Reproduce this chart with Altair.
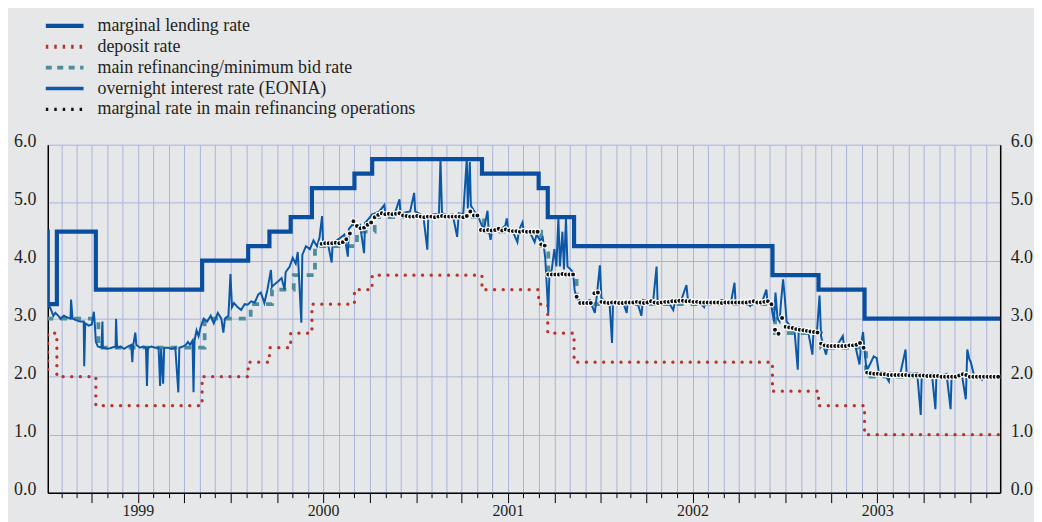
import altair as alt
import pandas as pd

# ---------------- data ----------------
SERIES = [
    "marginal lending rate",
    "deposit rate",
    "main refinancing/minimum bid rate",
    "overnight interest rate (EONIA)",
    "marginal rate in main refinancing operations",
]

# standing facilities: change dates and levels (step series)
CORRIDOR_DATES = ["1999-01-01", "1999-01-04", "1999-01-22", "1999-04-09", "1999-11-05",
                  "2000-02-04", "2000-03-17", "2000-04-28", "2000-06-09", "2000-09-01",
                  "2000-10-06", "2001-05-11", "2001-08-31", "2001-09-18", "2001-11-09",
                  "2002-12-06", "2003-03-07", "2003-06-06", "2004-02-29"]
LENDING_RATES = [4.50, 3.25, 4.50, 3.50, 4.00, 4.25, 4.50, 4.75, 5.25, 5.50,
                 5.75, 5.50, 5.25, 4.75, 4.25, 3.75, 3.50, 3.00, 3.00]
DEPOSIT_RATES = [2.00, 2.75, 2.00, 1.50, 2.00, 2.25, 2.50, 2.75, 3.25, 3.50,
                 3.75, 3.50, 3.25, 2.75, 2.25, 1.75, 1.50, 1.00, 1.00]

# main refinancing / minimum bid rate
MRO_DATES = ["1999-01-01", "1999-04-14", "1999-11-10", "2000-02-09", "2000-03-22",
             "2000-05-04", "2000-06-15", "2000-09-06", "2000-10-11", "2001-05-15",
             "2001-09-05", "2001-09-19", "2001-11-14", "2002-12-11", "2003-03-12",
             "2003-06-09", "2004-02-29"]
MRO_RATES = [3.00, 2.50, 3.00, 3.25, 3.50, 3.75, 4.25, 4.50, 4.75, 4.50,
             4.25, 3.75, 3.25, 2.75, 2.50, 2.00, 2.00]

# overnight rate (EONIA)
EONIA = [
    ("1999-01-04", 3.20), ("1999-01-07", 3.22), ("1999-01-12", 3.12), ("1999-01-15", 3.05),
    ("1999-01-19", 3.10), ("1999-01-25", 3.05), ("1999-01-29", 3.00), ("1999-02-05", 3.05),
    ("1999-02-12", 3.02), ("1999-02-18", 3.00), ("1999-02-19", 3.33), ("1999-02-22", 3.00),
    ("1999-03-02", 2.97), ("1999-03-09", 2.95), ("1999-03-16", 2.95), ("1999-03-17", 2.18),
    ("1999-03-19", 2.92), ("1999-03-26", 2.88), ("1999-04-01", 2.90), ("1999-04-05", 3.12),
    ("1999-04-07", 2.90), ("1999-04-09", 2.60), ("1999-04-13", 2.52), ("1999-04-20", 2.50),
    ("1999-04-22", 2.95), ("1999-04-23", 2.50), ("1999-05-03", 2.48), ("1999-05-10", 2.50),
    ("1999-05-18", 2.52), ("1999-05-19", 3.00), ("1999-05-21", 2.50), ("1999-05-28", 2.52),
    ("1999-06-04", 2.48), ("1999-06-11", 2.52), ("1999-06-18", 2.55), ("1999-06-20", 2.25),
    ("1999-06-22", 2.55), ("1999-06-26", 2.76), ("1999-06-28", 2.55), ("1999-07-05", 2.50),
    ("1999-07-12", 2.52), ("1999-07-17", 2.50), ("1999-07-19", 1.84), ("1999-07-21", 2.50),
    ("1999-07-28", 2.52), ("1999-08-04", 2.50), ("1999-08-11", 2.50), ("1999-08-14", 1.84),
    ("1999-08-16", 2.48), ("1999-08-20", 1.88), ("1999-08-22", 2.50), ("1999-08-30", 2.50),
    ("1999-09-06", 2.48), ("1999-09-13", 2.50), ("1999-09-19", 1.73), ("1999-09-21", 2.50),
    ("1999-09-28", 2.52), ("1999-10-04", 2.55), ("1999-10-08", 2.60), ("1999-10-12", 2.55),
    ("1999-10-17", 2.62), ("1999-10-19", 1.73), ("1999-10-21", 2.62), ("1999-10-25", 2.80),
    ("1999-10-29", 2.70), ("1999-11-02", 2.85), ("1999-11-08", 3.00), ("1999-11-15", 2.95),
    ("1999-11-22", 3.05), ("1999-11-28", 2.92), ("1999-12-06", 3.10), ("1999-12-13", 3.00),
    ("1999-12-17", 2.76), ("1999-12-20", 3.00), ("1999-12-27", 3.05), ("1999-12-31", 3.77),
    ("2000-01-03", 3.20), ("2000-01-07", 3.27), ("2000-01-14", 3.20), ("2000-01-21", 3.15),
    ("2000-01-28", 3.25), ("2000-02-03", 3.24), ("2000-02-10", 3.30), ("2000-02-17", 3.28),
    ("2000-02-24", 3.42), ("2000-02-29", 3.45), ("2000-03-07", 3.27), ("2000-03-13", 3.50),
    ("2000-03-20", 3.84), ("2000-03-22", 3.55), ("2000-03-28", 3.60), ("2000-04-04", 3.65),
    ("2000-04-10", 3.70), ("2000-04-16", 3.50), ("2000-04-18", 3.80), ("2000-04-26", 3.90),
    ("2000-05-02", 4.05), ("2000-05-08", 3.95), ("2000-05-12", 4.15), ("2000-05-19", 2.93),
    ("2000-05-21", 4.10), ("2000-05-28", 4.25), ("2000-06-05", 4.20), ("2000-06-12", 4.35),
    ("2000-06-19", 4.25), ("2000-06-24", 4.40), ("2000-06-29", 4.77), ("2000-07-01", 4.30),
    ("2000-07-10", 4.32), ("2000-07-18", 3.97), ("2000-07-20", 4.32), ("2000-07-28", 4.35),
    ("2000-08-05", 4.40), ("2000-08-12", 4.45), ("2000-08-19", 4.07), ("2000-08-21", 4.55),
    ("2000-08-28", 4.62), ("2000-09-05", 4.60), ("2000-09-12", 4.62), ("2000-09-20", 4.13),
    ("2000-09-22", 4.65), ("2000-09-29", 4.72), ("2000-10-06", 4.80), ("2000-10-13", 4.82),
    ("2000-10-20", 4.85), ("2000-10-30", 4.96), ("2000-11-01", 4.82), ("2000-11-10", 4.83),
    ("2000-11-20", 4.82), ("2000-11-29", 5.06), ("2000-12-01", 4.82), ("2000-12-10", 4.83),
    ("2000-12-20", 4.85), ("2000-12-28", 5.17), ("2000-12-30", 4.85), ("2001-01-05", 4.82),
    ("2001-01-15", 4.78), ("2001-01-23", 4.19), ("2001-01-25", 4.78), ("2001-02-05", 4.80),
    ("2001-02-15", 4.80), ("2001-02-18", 5.75), ("2001-02-21", 4.82), ("2001-03-05", 4.78),
    ("2001-03-14", 4.80), ("2001-03-23", 4.41), ("2001-03-26", 4.82), ("2001-04-04", 4.80),
    ("2001-04-11", 5.77), ("2001-04-13", 4.90), ("2001-04-17", 5.70), ("2001-04-19", 4.95),
    ("2001-04-26", 4.85), ("2001-05-04", 4.75), ("2001-05-11", 4.60), ("2001-05-15", 4.55),
    ("2001-05-22", 4.86), ("2001-05-24", 4.55), ("2001-05-28", 4.36), ("2001-05-31", 4.55),
    ("2001-06-08", 4.57), ("2001-06-18", 4.55), ("2001-06-26", 4.60), ("2001-06-29", 4.73),
    ("2001-07-02", 4.52), ("2001-07-10", 4.52), ("2001-07-20", 4.32), ("2001-07-23", 4.52),
    ("2001-07-30", 4.66), ("2001-08-02", 4.50), ("2001-08-12", 4.52), ("2001-08-23", 4.32),
    ("2001-08-27", 4.45), ("2001-09-03", 4.35), ("2001-09-08", 4.40), ("2001-09-13", 4.05),
    ("2001-09-19", 3.10), ("2001-09-21", 3.70), ("2001-09-26", 3.85), ("2001-10-01", 4.20),
    ("2001-10-05", 3.90), ("2001-10-09", 4.73), ("2001-10-12", 3.90), ("2001-10-17", 4.50),
    ("2001-10-20", 3.85), ("2001-10-24", 4.73), ("2001-10-27", 3.90), ("2001-11-02", 3.85),
    ("2001-11-07", 3.80), ("2001-11-10", 3.50), ("2001-11-14", 3.35), ("2001-11-22", 3.30),
    ("2001-11-30", 3.28), ("2001-12-10", 3.32), ("2001-12-20", 3.10), ("2001-12-24", 3.40),
    ("2001-12-30", 3.92), ("2002-01-02", 3.35), ("2002-01-10", 3.30), ("2002-01-18", 3.28),
    ("2002-01-23", 2.58), ("2002-01-25", 3.30), ("2002-02-05", 3.30), ("2002-02-14", 3.28),
    ("2002-02-21", 3.10), ("2002-02-23", 3.30), ("2002-03-05", 3.30), ("2002-03-14", 3.28),
    ("2002-03-22", 3.05), ("2002-03-25", 3.32), ("2002-04-05", 3.30), ("2002-04-14", 3.28),
    ("2002-04-21", 3.90), ("2002-04-23", 3.30), ("2002-05-05", 3.30), ("2002-05-15", 3.28),
    ("2002-05-24", 3.15), ("2002-05-28", 3.32), ("2002-06-08", 3.30), ("2002-06-19", 3.58),
    ("2002-06-22", 3.32), ("2002-07-05", 3.30), ("2002-07-15", 3.28), ("2002-07-24", 3.20),
    ("2002-07-27", 3.30), ("2002-08-08", 3.30), ("2002-08-20", 3.28), ("2002-08-27", 3.32),
    ("2002-09-05", 3.30), ("2002-09-15", 3.28), ("2002-09-22", 3.62), ("2002-09-24", 3.30),
    ("2002-10-05", 3.30), ("2002-10-15", 3.28), ("2002-10-23", 3.22), ("2002-10-26", 3.30),
    ("2002-11-06", 3.30), ("2002-11-15", 3.28), ("2002-11-24", 3.50), ("2002-11-26", 3.30),
    ("2002-12-03", 3.28), ("2002-12-06", 3.10), ("2002-12-09", 2.95), ("2002-12-12", 3.45),
    ("2002-12-16", 3.00), ("2002-12-20", 2.95), ("2002-12-23", 3.30), ("2002-12-27", 3.68),
    ("2002-12-30", 3.40), ("2003-01-03", 2.95), ("2003-01-10", 2.88), ("2003-01-18", 2.85),
    ("2003-01-25", 2.12), ("2003-01-27", 2.85), ("2003-02-05", 2.82), ("2003-02-14", 2.80),
    ("2003-02-23", 2.38), ("2003-02-25", 2.80), ("2003-03-04", 2.78), ("2003-03-09", 3.40),
    ("2003-03-12", 2.70), ("2003-03-16", 2.55), ("2003-03-22", 2.38), ("2003-03-25", 2.55),
    ("2003-04-05", 2.55), ("2003-04-15", 2.57), ("2003-04-24", 2.70), ("2003-04-26", 2.55),
    ("2003-05-08", 2.55), ("2003-05-18", 2.56), ("2003-05-27", 2.21), ("2003-05-30", 2.55),
    ("2003-06-03", 2.77), ("2003-06-06", 2.45), ("2003-06-10", 2.10), ("2003-06-16", 2.20),
    ("2003-06-24", 2.35), ("2003-06-30", 2.32), ("2003-07-04", 2.08), ("2003-07-14", 2.07),
    ("2003-07-24", 1.92), ("2003-07-26", 2.07), ("2003-08-05", 2.06), ("2003-08-16", 2.07),
    ("2003-08-26", 2.47), ("2003-08-28", 2.07), ("2003-09-08", 2.05), ("2003-09-18", 2.06),
    ("2003-09-25", 1.34), ("2003-09-27", 2.05), ("2003-10-08", 2.04), ("2003-10-17", 2.05),
    ("2003-10-24", 1.44), ("2003-10-26", 2.03), ("2003-11-05", 2.02), ("2003-11-15", 2.05),
    ("2003-11-23", 1.44), ("2003-11-25", 2.03), ("2003-12-05", 2.03), ("2003-12-15", 2.05),
    ("2003-12-23", 1.61), ("2003-12-26", 2.47), ("2003-12-30", 2.30), ("2004-01-02", 2.25),
    ("2004-01-08", 2.03), ("2004-01-16", 2.02), ("2004-01-24", 1.95), ("2004-01-27", 2.03),
    ("2004-02-05", 2.02), ("2004-02-15", 2.03), ("2004-02-25", 2.00),
]

# marginal rate in the weekly main refinancing operations (from 28 June 2000)
MARGINAL_FIRST_TENDER = "2000-06-28"
MARGINAL_2000 = [4.29, 4.30, 4.30, 4.30, 4.31, 4.30, 4.32, 4.37, 4.47, 4.68, 4.60, 4.56, 4.57,
                 4.62, 4.66, 4.75, 4.79, 4.82, 4.80, 4.81, 4.80, 4.81, 4.82, 4.78, 4.77, 4.76, 4.76]
MARGINAL_2001 = [4.77, 4.76, 4.75, 4.76, 4.76, 4.75, 4.76, 4.77, 4.76, 4.76, 4.76, 4.76, 4.76,
                 4.75, 4.77, 4.85, 4.78, 4.78, 4.53, 4.52, 4.53, 4.52, 4.53, 4.55, 4.52, 4.54,
                 4.52, 4.51, 4.51, 4.50, 4.51, 4.50, 4.50, 4.50, 4.50, 4.28, 4.26, 3.76, 3.76,
                 3.76, 3.76, 3.77, 3.76, 3.76, 3.76, 3.38, 3.27, 3.27, 3.27, 3.27, 3.44, 3.45]
MARGINAL_2002 = [3.29, 3.28, 3.27, 3.28, 3.28, 3.27, 3.27, 3.28, 3.28, 3.28, 3.29, 3.28, 3.27,
                 3.28, 3.30, 3.28, 3.27, 3.28, 3.29, 3.29, 3.30, 3.30, 3.31, 3.31, 3.30, 3.30,
                 3.29, 3.29, 3.28, 3.28, 3.28, 3.28, 3.28, 3.28, 3.27, 3.28, 3.28, 3.28, 3.28,
                 3.28, 3.28, 3.28, 3.29, 3.30, 3.28, 3.28, 3.29, 3.30, 3.25, 2.81, 2.74, 3.01]
MARGINAL_2003 = [2.86, 2.85, 2.84, 2.82, 2.81, 2.80, 2.79, 2.78, 2.77, 2.76, 2.57, 2.54, 2.53,
                 2.53, 2.53, 2.53, 2.53, 2.53, 2.54, 2.54, 2.55, 2.58, 2.50, 2.07, 2.06, 2.05,
                 2.05, 2.04, 2.04, 2.03, 2.03, 2.03, 2.03, 2.03, 2.03, 2.02, 2.02, 2.02, 2.02,
                 2.02, 2.01, 2.01, 2.01, 2.01, 2.00, 2.00, 2.00, 2.00, 2.00, 2.02, 2.04, 2.03,
                 2.00, 2.00, 2.00, 2.00, 2.00, 2.00, 2.00, 2.00, 2.00]

Y_TICKS = [0, 1, 2, 3, 4, 5, 6]

# ---------------- styling ----------------
FONT = "Liberation Serif, Times New Roman, DejaVu Serif, serif"
TXT = "#231f20"
BG = "#e6e7e9"
GRID = "#a9b3dc"
BLUE = "#0a4f9f"
EONIA_BLUE = "#0b58a9"
RED = "#b5342b"
TEAL = "#4e8e9a"
BLACK = "#111111"

# ---------------- tables ----------------
corridor = pd.DataFrame({"date": pd.to_datetime(CORRIDOR_DATES),
                         "lending": LENDING_RATES, "deposit": DEPOSIT_RATES})
mro = pd.DataFrame({"date": pd.to_datetime(MRO_DATES), "rate": MRO_RATES})
eonia = pd.DataFrame({"date": pd.to_datetime([d for d, _ in EONIA]),
                      "rate": [v for _, v in EONIA]})
marg_vals = MARGINAL_2000 + MARGINAL_2001 + MARGINAL_2002 + MARGINAL_2003
marginal = pd.DataFrame({
    "date": pd.date_range(MARGINAL_FIRST_TENDER, periods=len(marg_vals), freq="7D"),
    "rate": marg_vals,
})
legend_df = pd.DataFrame({"series": SERIES,
                          "date": pd.to_datetime(["1999-06-01"] * len(SERIES)),
                          "rate": [None] * len(SERIES)})

# ---------------- scales & axes ----------------
x_scale = alt.Scale(domain=[alt.DateTime(year=1999, month=1, date=4),
                            alt.DateTime(year=2004, month=2, date=29)])
y_scale = alt.Scale(domain=[0, 6], nice=False)

month_ticks = [alt.DateTime(year=y, month=m, date=1)
               for y in range(1999, 2005) for m in range(1, 13)
               if (y, m) != (1999, 1) and (y < 2004 or m <= 2)]

x_axis = alt.Axis(
    values=month_ticks, grid=True, gridColor=GRID, gridWidth=1,
    domainColor="black", domainWidth=1.5,
    tickColor="black", tickWidth=1,
    tickSize={"condition": {"test": "month(datum.value) % 3 == 0", "value": 10}, "value": 5},
    labelExpr="month(datum.value) == 6 ? timeFormat(datum.value, '%Y') : ''",
    labelFont=FONT, labelFontSize=16, labelColor=TXT, labelPadding=0,
    labelAngle=0, labelOverlap=False, title=None,
)
y_left = alt.Axis(orient="left", values=Y_TICKS, format=".1f", grid=True, gridColor=GRID,
                  gridWidth=1, ticks=False, domainColor="black", domainWidth=1.5,
                  labelFont=FONT, labelFontSize=18, labelColor=TXT, labelPadding=12,
                  labelOffset=-3, title=None)
y_right = alt.Axis(orient="right", values=Y_TICKS, format=".1f", grid=False, ticks=False,
                   domainColor="black", domainWidth=1.5,
                   labelFont=FONT, labelFontSize=18, labelColor=TXT, labelPadding=10,
                   labelOffset=-3, title=None)

X_plain = alt.X("date:T", scale=x_scale, axis=None)
Y_plain = alt.Y("rate:Q", scale=y_scale, axis=None)

# ---------------- layers ----------------
deposit_layer = alt.Chart(corridor).mark_line(
    interpolate="step-after", color=RED, strokeWidth=3.3, strokeDash=[0.1, 8.6],
    strokeCap="round", clip=True
).encode(x=X_plain, y=alt.Y("deposit:Q", scale=y_scale, axis=None))

mro_layer = alt.Chart(mro).mark_line(
    interpolate="step-after", color=TEAL, strokeWidth=3.8, strokeDash=[7, 7], clip=True
).encode(x=X_plain, y=Y_plain)

lending_layer = alt.Chart(corridor).mark_line(
    interpolate="step-after", color=BLUE, strokeWidth=4.2, clip=True
).encode(x=alt.X("date:T", scale=x_scale, axis=x_axis),
         y=alt.Y("lending:Q", scale=y_scale, axis=y_left))

eonia_layer = alt.Chart(eonia).mark_line(
    color=EONIA_BLUE, strokeWidth=2.0, clip=True
).encode(x=X_plain, y=alt.Y("rate:Q", scale=y_scale, axis=y_right))

marginal_layer = alt.Chart(marginal).mark_point(
    filled=True, fill=BLACK, stroke="white", strokeWidth=1.1, size=26, opacity=1, clip=True
).encode(x=X_plain, y=Y_plain)

leg = alt.Legend(
    orient="none", legendX=8, legendY=-128.5, title=None,
    symbolType="M-4,0H4", symbolSize=90, labelFont=FONT, labelFontSize=18,
    labelColor=TXT, labelLimit=500, labelOffset=24, rowPadding=3,
)
legend_layer = alt.Chart(legend_df).mark_line().encode(
    x=X_plain,
    y=Y_plain,
    color=alt.Color("series:N", scale=alt.Scale(domain=SERIES,
                    range=[BLUE, RED, TEAL, EONIA_BLUE, BLACK]), legend=leg),
    strokeDash=alt.StrokeDash("series:N", scale=alt.Scale(domain=SERIES,
                    range=[[1, 0], [2.5, 6], [6, 5.5], [1, 0], [2.5, 6]]), legend=leg),
    strokeWidth=alt.StrokeWidth("series:N", scale=alt.Scale(domain=SERIES,
                    range=[4.2, 3.2, 3.8, 2.2, 3.6]), legend=leg),
)

chart = alt.layer(
    legend_layer, deposit_layer, mro_layer, eonia_layer, lending_layer, marginal_layer
).resolve_axis(x="independent", y="independent").properties(
    width=958, height=350,
    padding={"left": 40, "top": 136, "right": 34, "bottom": 28},
    autosize=alt.AutoSizeParams(type="none"),
).configure(background=BG).configure_view(stroke="transparent")

chart.save("out.html", embed_options={"renderer": "svg", "actions": False})
